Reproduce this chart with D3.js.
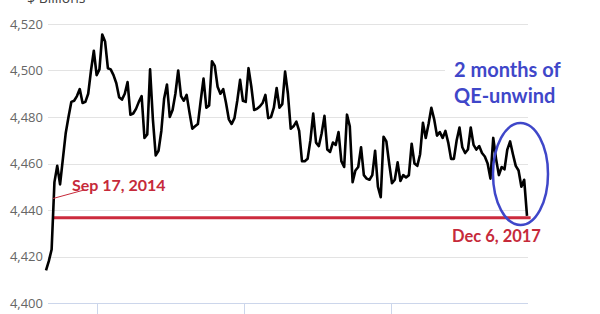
<!DOCTYPE html>
<html>
<head>
<meta charset="utf-8">
<script src="https://cdn.jsdelivr.net/npm/d3@7"></script>
<style>
  html, body { margin: 0; padding: 0; background: #fff; }
  svg { display: block; }
</style>
</head>
<body>
<svg id="chart" width="600" height="314"></svg>
<script>
// Fed balance sheet, weekly, $ billions
const firstWeek = '2014-08-27';
const weeklyValues = [
  4414, 4418, 4423, 4452, 4459, 4451, 4462, 4473, 4480, 4486.5,
  4487, 4489, 4492, 4486, 4486.5, 4490, 4500, 4508.5, 4498, 4500.5,
  4515.5, 4512.5, 4501, 4500.5, 4498, 4494.5, 4488.5, 4487.5, 4490, 4495,
  4481, 4481.5, 4483.5, 4486.5, 4489, 4471, 4472.5, 4500.5, 4479, 4463.5,
  4465.5, 4474, 4488, 4494, 4480, 4483, 4490, 4500, 4489, 4487,
  4489.5, 4482, 4475, 4476, 4477, 4487, 4496.5, 4484, 4485, 4504,
  4502, 4493, 4490, 4492, 4486, 4479, 4477, 4479.5, 4487, 4496,
  4487, 4486.5, 4501, 4493, 4483, 4483.5, 4484.5, 4486, 4489.5, 4479.5,
  4480, 4484, 4492.5, 4484, 4485.5, 4499.5, 4490, 4475, 4476, 4478,
  4474, 4461, 4461, 4462, 4470, 4481.5, 4469, 4467.5, 4473, 4480.5,
  4466, 4465, 4469, 4468, 4473.5, 4461, 4458.5, 4481, 4476, 4452,
  4457, 4458.5, 4467, 4455, 4453.5, 4453, 4455, 4465.5, 4450, 4445.5,
  4471.5, 4469.5, 4460, 4451.5, 4453, 4460.5, 4452.5, 4455, 4454, 4455,
  4468.5, 4460, 4459, 4464, 4477.5, 4471, 4477, 4484, 4479, 4472,
  4473.5, 4471, 4474, 4469, 4462, 4462, 4470, 4475.5, 4467, 4464.5,
  4466, 4475.5, 4468, 4466, 4467.5, 4464.5, 4463, 4460, 4453.5, 4471,
  4462, 4455, 4458.5, 4457.5, 4466, 4469.5, 4464, 4459, 4457, 4450,
  4453, 4437.5
];
const yTicks = [4400, 4420, 4440, 4460, 4480, 4500, 4520];
const xTicks = ['2015-01-01', '2016-01-01', '2017-01-01'];
const refLevel = 4436.7;
const refDates = ['2014-09-12', '2017-12-15'];
const startLabel = 'Sep 17, 2014';
const endLabel = 'Dec 6, 2017';
const noteLines = ['2 months of', 'QE-unwind'];

const parse = d3.timeParse('%Y-%m-%d');
const start = parse(firstWeek);
const data = weeklyValues.map((v, i) => ({ date: d3.timeDay.offset(start, 7 * i), value: v }));

const svg = d3.select('#chart');
const plotLeft = 48, plotRight = 528;

const x = d3.scaleTime()
  .domain([data[0].date, data[data.length - 1].date])
  .range([46, 527]);
const y = d3.scaleLinear().domain([4400, 4520]).range([303, 24]);

const fmt = d3.format(',');

// gridlines
svg.append('g').selectAll('line')
  .data(yTicks.filter(t => t > 4400))
  .join('line')
  .attr('x1', plotLeft).attr('x2', plotRight)
  .attr('y1', d => Math.round(y(d)) + 0.5).attr('y2', d => Math.round(y(d)) + 0.5)
  .attr('stroke', '#e3e3e3').attr('stroke-width', 1);

// y labels
svg.append('g').selectAll('text')
  .data(yTicks)
  .join('text')
  .attr('x', 43).attr('y', d => y(d) + 4.5)
  .attr('text-anchor', 'end')
  .attr('font-family', 'Open Sans, sans-serif')
  .attr('font-size', 13)
  .attr('fill', '#666')
  .text(d => fmt(d));

svg.append('text')
  .attr('x', 27).attr('y', 3)
  .attr('font-family', 'Open Sans, sans-serif')
  .attr('font-size', 14)
  .attr('fill', '#444')
  .text('$ Billions');

// x axis line + ticks
svg.append('line')
  .attr('x1', plotLeft).attr('x2', plotRight)
  .attr('y1', 303.5).attr('y2', 303.5)
  .attr('stroke', '#ccd6eb');
svg.append('g').selectAll('line')
  .data(xTicks.map(parse))
  .join('line')
  .attr('x1', d => Math.round(x(d)) + 0.5).attr('x2', d => Math.round(x(d)) + 0.5)
  .attr('y1', 303).attr('y2', 314)
  .attr('stroke', '#ccd6eb');

// white box behind the note
svg.append('rect')
  .attr('x', 445).attr('y', 55).attr('width', 125).attr('height', 54)
  .attr('fill', '#fff');

// reference level
svg.append('line')
  .attr('x1', x(parse(refDates[0]))).attr('x2', x(parse(refDates[1])))
  .attr('y1', y(refLevel)).attr('y2', y(refLevel))
  .attr('stroke', '#cc2a3c').attr('stroke-width', 3);

// data line
const line = d3.line().x(d => x(d.date)).y(d => y(d.value));
svg.append('path')
  .datum(data)
  .attr('d', line)
  .attr('fill', 'none')
  .attr('stroke', '#000')
  .attr('stroke-width', 2.6)
  .attr('stroke-linejoin', 'round');

// annotations
const red = '#c62a3a';
svg.append('line')
  .attr('x1', 53).attr('y1', 198.5).attr('x2', 84).attr('y2', 190)
  .attr('stroke', red).attr('stroke-width', 1);
svg.append('text')
  .attr('x', 72).attr('y', 191)
  .attr('font-family', 'Lato, sans-serif').attr('font-weight', 700)
  .attr('font-size', 16).attr('fill', red)
  .text(startLabel);
svg.append('text')
  .attr('x', 452).attr('y', 242)
  .attr('font-family', 'Lato, sans-serif').attr('font-weight', 700)
  .attr('font-size', 16.5).attr('fill', red)
  .text(endLabel);

const blue = '#3f47c9';
svg.append('g').selectAll('text')
  .data(noteLines)
  .join('text')
  .attr('x', 454).attr('y', (d, i) => 77 + i * 26)
  .attr('font-family', 'Lato, sans-serif').attr('font-weight', 700)
  .attr('font-size', 20).attr('fill', blue)
  .text(d => d);

svg.append('ellipse')
  .attr('cx', 520.5).attr('cy', 174).attr('rx', 27.5).attr('ry', 51)
  .attr('fill', 'none').attr('stroke', blue).attr('stroke-width', 2.5);
</script>
</body>
</html>
